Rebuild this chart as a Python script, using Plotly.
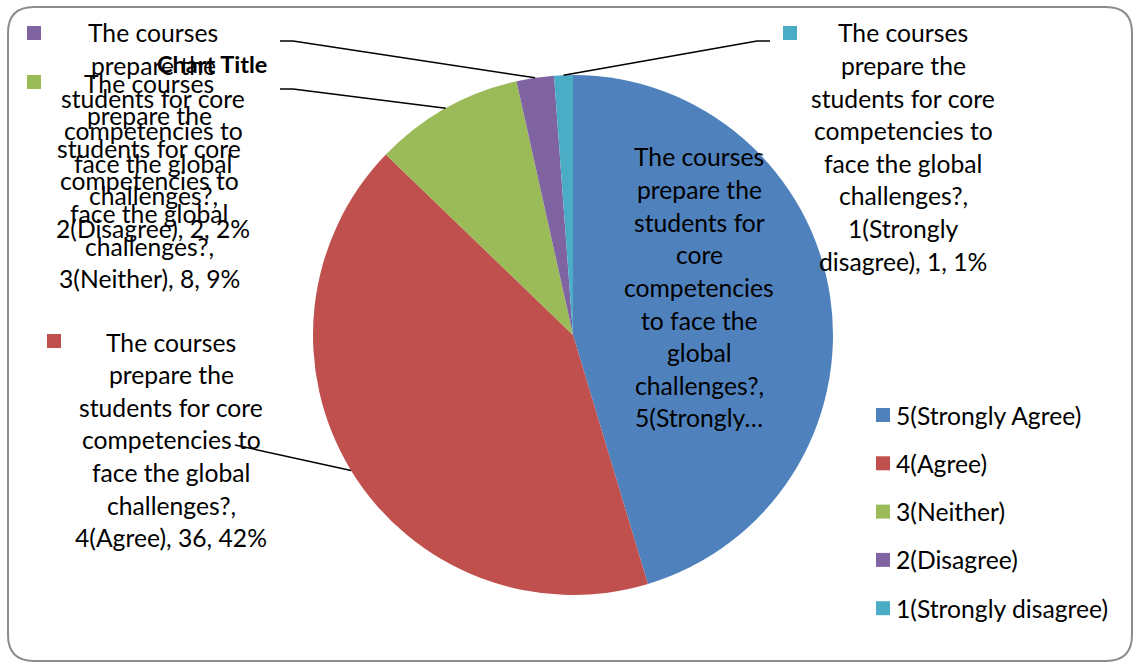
import math
import plotly.graph_objects as go

W, H = 1134, 662

# ---- data ----
categories = ["5(Strongly Agree)", "4(Agree)", "3(Neither)", "2(Disagree)", "1(Strongly disagree)"]
values = [39, 36, 8, 2, 1]
percents = ["45%", "42%", "9%", "2%", "1%"]
colors = ["#4F81BD", "#C0504D", "#9BBB59", "#8064A2", "#4BACC6"]
question = "The courses prepare the students for core competencies to face the global challenges?"

FONT = "Lato"
FS = 24.7
LH = 32.6

def px(x):
    return x / W

def py(y):
    return 1 - y / H

# pie geometry (pixels)
CX, CY, R = 573, 335, 260

fig = go.Figure()
fig.add_trace(go.Pie(
    labels=categories, values=values, sort=False, direction="clockwise", rotation=0,
    marker=dict(colors=colors, line=dict(width=0)), textinfo="none", hoverinfo="label+value+percent",
    showlegend=False,
    domain=dict(x=[px(CX - R), px(CX + R)], y=[py(CY + R), py(CY - R)]),
))

annotations = []
shapes = []

def text_block(lines, cx, y0, bold=False, size=FS):
    for i, t in enumerate(lines):
        annotations.append(dict(
            x=px(cx), y=py(y0 + i * LH), xref="paper", yref="paper", text=("<b>%s</b>" % t) if bold else t,
            showarrow=False, xanchor="center", yanchor="middle",
            font=dict(family=FONT, size=size, color="#000000")))

def key(color, x, y, s=14):
    shapes.append(dict(type="rect", xref="paper", yref="paper", x0=px(x), x1=px(x + s), y0=py(y + s), y1=py(y),
                       fillcolor=color, line=dict(width=0)))

def mid_point(i):
    tot = sum(values)
    cum = sum(values[:i]) + values[i] / 2
    a = cum / tot * 2 * math.pi
    return CX + R * math.sin(a), CY - R * math.cos(a)

def leader(i, sx, sy, bx):
    ex, ey = mid_point(i)
    shapes.append(dict(type="line", xref="paper", yref="paper", x0=px(sx), y0=py(sy), x1=px(bx), y1=py(sy),
                       line=dict(color="#000000", width=1.5)))
    shapes.append(dict(type="line", xref="paper", yref="paper", x0=px(bx), y0=py(sy), x1=px(ex), y1=py(ey),
                       line=dict(color="#000000", width=1.5)))

base = ["The courses", "prepare the", "students for core", "competencies to", "face the global", "challenges?,"]

# purple label (2 Disagree)
key(colors[3], 27, 26)
text_block(base + ["%s, %d, %s" % (categories[3], values[3], percents[3])], 153, 33)
leader(3, 280, 41, 293)

# green label (3 Neither)
key(colors[2], 27, 75)
text_block(base + ["%s, %d, %s" % (categories[2], values[2], percents[2])], 149, 83)
leader(2, 280, 89, 293)

# chart title
text_block(["Chart Title"], 212, 64, bold=True, size=23.5)

# cyan label (1 Strongly disagree)
key(colors[4], 783, 26)
text_block(base + ["1(Strongly", "disagree), %d, %s" % (values[4], percents[4])], 903, 33)
leader(4, 770, 41, 757)

# red label (4 Agree)
key(colors[1], 47, 334)
text_block(base + ["%s, %d, %s" % (categories[1], values[1], percents[1])], 171, 342)
ex, ey = mid_point(1)
shapes.append(dict(type="line", xref="paper", yref="paper", x0=px(235), y0=py(445), x1=px(ex), y1=py(ey),
                   line=dict(color="#000000", width=1.5)))

# blue inside label (5 Strongly Agree)
text_block(["The courses", "prepare the", "students for", "core", "competencies", "to face the", "global",
            "challenges?,", "5(Strongly\u2026"], 699, 157)

# legend (manual)
for i, c in enumerate(categories):
    yy = 415 + i * 48.3
    key(colors[i], 876, yy - 7)
    annotations.append(dict(x=px(894), y=py(yy), xref="paper", yref="paper", text=c, showarrow=False,
                            xanchor="left", yanchor="middle", font=dict(family=FONT, size=FS, color="#000000")))

# chart border (rounded)
x0, y0, x1, y1, r = 8, 7, 1132, 661, 26
path = ("M %f,%f L %f,%f Q %f,%f %f,%f L %f,%f Q %f,%f %f,%f L %f,%f Q %f,%f %f,%f L %f,%f Q %f,%f %f,%f Z" % (
    px(x0 + r), py(y0), px(x1 - r), py(y0), px(x1), py(y0), px(x1), py(y0 + r),
    px(x1), py(y1 - r), px(x1), py(y1), px(x1 - r), py(y1),
    px(x0 + r), py(y1), px(x0), py(y1), px(x0), py(y1 - r),
    px(x0), py(y0 + r), px(x0), py(y0), px(x0 + r), py(y0)))
shapes.append(dict(type="path", xref="paper", yref="paper", path=path, line=dict(color="#8C8C8C", width=2)))

fig.update_layout(
    width=W, height=H, margin=dict(l=0, r=0, t=0, b=0),
    paper_bgcolor="#FFFFFF", plot_bgcolor="#FFFFFF",
    annotations=annotations, shapes=shapes, showlegend=False,
)

fig.write_html("out.html", config={"displayModeBar": False},
               post_script="document.body.style.margin='0';document.body.style.overflow='hidden';")
